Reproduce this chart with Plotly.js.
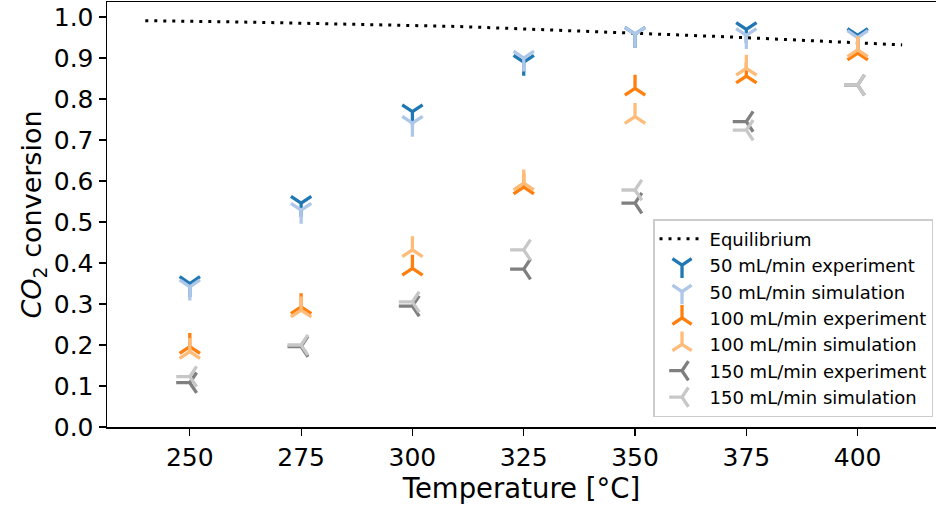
<!DOCTYPE html>
<html><head><meta charset="utf-8">
<script src="https://cdn.plot.ly/plotly-3.0.1.min.js"></script>
<style>html,body{margin:0;padding:0;background:#fff}#chart{width:936px;height:508px}</style>
</head><body><div id="chart"></div>
<script>
const temperatures = [250, 275, 300, 325, 350, 375, 400];
const eqTemps = [240, 250, 260, 270, 280, 290, 300, 310, 320, 330, 340, 350, 360, 370, 380, 390, 400, 410];
const eqConv = [0.991, 0.990, 0.988, 0.986, 0.984, 0.982, 0.980, 0.977, 0.973, 0.969, 0.965, 0.961, 0.957, 0.952, 0.947, 0.942, 0.937, 0.932];
const exp50 = [0.350, 0.546, 0.769, 0.890, 0.958, 0.970, 0.955];
const sim50 = [0.342, 0.529, 0.741, 0.900, 0.958, 0.955, 0.950];
const exp100 = [0.196, 0.293, 0.387, 0.585, 0.826, 0.856, 0.912];
const sim100 = [0.184, 0.285, 0.432, 0.595, 0.757, 0.875, 0.920];
const exp150 = [0.108, 0.196, 0.295, 0.385, 0.546, 0.745, 0.834];
const sim150 = [0.123, 0.200, 0.305, 0.432, 0.578, 0.724, 0.834];
const xTicks = [250, 275, 300, 325, 350, 375, 400];
const yTicks = [0.0, 0.1, 0.2, 0.3, 0.4, 0.5, 0.6, 0.7, 0.8, 0.9, 1.0];
const names = ['50 mL/min experiment', '50 mL/min simulation', '100 mL/min experiment', '100 mL/min simulation', '150 mL/min experiment', '150 mL/min simulation'];

function mk(y, name, color, symbol) {
  return {x: temperatures, y: y, name: name, type: 'scatter', mode: 'markers',
    marker: {symbol: symbol, size: 17, color: color, line: {color: color, width: 3.3}}};
}
const data = [
  {x: eqTemps, y: eqConv, name: 'Equilibrium', type: 'scatter', mode: 'lines',
   line: {color: '#000', width: 3, dash: '3px,6px'}},
  mk(exp50, names[0], '#1f77b4', 'y-down'),
  mk(sim50, names[1], '#aec7e8', 'y-down'),
  mk(exp100, names[2], '#ff7f0e', 'y-up'),
  mk(sim100, names[3], '#ffbb78', 'y-up'),
  mk(exp150, names[4], '#7f7f7f', 'y-left'),
  mk(sim150, names[5], '#c7c7c7', 'y-left')
];
const layout = {
  width: 936, height: 508,
  margin: {l: 107, r: 0, t: 2, b: 81},
  paper_bgcolor: '#fff', plot_bgcolor: '#fff',
  font: {family: 'DejaVu Sans', size: 25, color: '#000'},
  showlegend: true,
  xaxis: {range: [231.4, 417.6], tickvals: xTicks, ticktext: xTicks.map(String),
    showgrid: false, zeroline: false, showline: true, mirror: true, linecolor: '#000', linewidth: 1.5,
    ticks: 'outside', ticklen: 7, tickwidth: 1.2, tickcolor: '#000',
    tickfont: {size: 25}, title: {text: 'Temperature [°C]', font: {size: 27.5}, standoff: 5}},
  yaxis: {range: [0, 1.0366], tickvals: yTicks, ticktext: yTicks.map(v => v.toFixed(1)),
    showgrid: false, zeroline: false, showline: true, linecolor: '#000', linewidth: 1.5,
    ticks: 'outside', ticklen: 7, tickwidth: 1.2, tickcolor: '#000',
    tickfont: {size: 25}, title: {text: '<i>CO</i><sub>2</sub> conversion', font: {size: 27}, standoff: 4}},
  legend: {x: 0.9964, xanchor: 'right', y: 0.0235, yanchor: 'bottom',
    bgcolor: 'rgba(255,255,255,0.8)', bordercolor: '#cccccc', borderwidth: 1.5,
    font: {size: 18}, itemsizing: 'trace', itemwidth: 45}
};
Plotly.newPlot('chart', data, layout, {displayModeBar: false, staticPlot: true});
</script></body></html>
